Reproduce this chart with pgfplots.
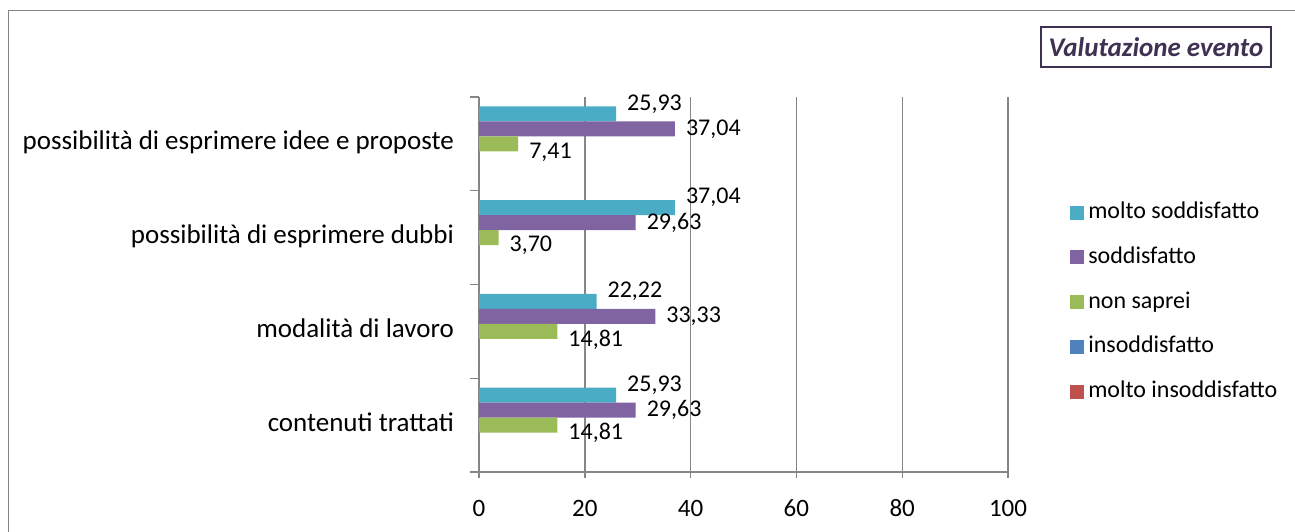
\documentclass[border=0pt]{standalone}
\usepackage{fontspec}
\setmainfont{Carlito}
\usepackage{pgfplots}
\pgfplotsset{compat=1.18}
\definecolor{molto}{HTML}{4BACC6}
\definecolor{sodd}{HTML}{8064A2}
\definecolor{nonsap}{HTML}{9BBB59}
\definecolor{insodd}{HTML}{4F81BD}
\definecolor{mins}{HTML}{C0504D}
\definecolor{axgray}{HTML}{868686}
\definecolor{titlecol}{HTML}{3F3151}
\pgfplotsset{/pgf/number format/assume math mode=true}
\newcommand{\lbl}{\pgfmathprintnumber[fixed,fixed zerofill,precision=2,use comma]{\pgfplotspointmeta}}

\begin{document}
\begin{tikzpicture}
% 1 px of the reference = 0.5pt
\useasboundingbox (0pt,0pt) rectangle (647.5pt,-265.5pt);
\draw[axgray, line width=0.7pt] (4.25pt,-270pt) -- (4.25pt,-5.25pt) -- (652pt,-5.25pt);
\node[draw=titlecol, line width=0.8pt, text=titlecol, minimum width=115pt, minimum height=20pt,
  font=\fontsize{13.5}{15}\selectfont\bfseries\itshape] at (578pt,-23.5pt) {Valutazione evento};

\begin{axis}[
  at={(239.5pt,-236pt)}, anchor=south west,
  scale only axis, width=264.5pt, height=187.5pt,
  xbar, bar width=0.16,
  xmin=0, xmax=100, ymin=-0.5, ymax=3.5,
  xtick={0,20,...,100},
  ytick={0,1,2,3},
  yticklabels={contenuti trattati, modalità di lavoro, possibilità di esprimere dubbi, possibilità di esprimere idee e proposte},
  minor ytick={-0.5,0.5,...,3.5},
  axis x line*=bottom, axis y line*=left,
  axis line style={-, draw=axgray, line width=0.7pt},
  xmajorgrids, grid style={draw=axgray, line width=0.7pt},
  tick align=outside,
  major tick length=3pt, minor tick length=4.5pt,
  major y tick style={draw=none},
  minor y tick style={draw=axgray, line width=0.7pt},
  x tick style={draw=axgray, line width=0.7pt},
  typeset ticklabels with strut,
  x tick label style={font=\fontsize{12.5}{14}\selectfont, yshift=-6pt},
  y tick label style={font=\fontsize{13.5}{15}\selectfont, xshift=-6pt},
  point meta=x,
  every node near coord/.append style={font=\fontsize{12}{14}\selectfont, xshift=2pt},
  legend style={at={(axis description cs:1.117,0.735)}, anchor=north west, draw=none, fill=none,
    inner sep=0pt, row sep=6.35pt, font=\fontsize{12}{14}\selectfont,
    nodes={inner sep=2pt, text height=9pt, text depth=3pt}},
  legend cell align=left,
  legend image code/.code={\fill[#1] (0pt,-3.5pt) rectangle (7pt,3.5pt);},
]
\addplot[fill=molto, draw=none, bar shift=0.32, nodes near coords=\lbl,
  every node near coord/.append style={yshift=5pt}]
  coordinates {(25.93,0) (22.22,1) (37.04,2) (25.93,3)};
\addplot[fill=sodd, draw=none, bar shift=0.16, nodes near coords=\lbl]
  coordinates {(29.63,0) (33.33,1) (29.63,2) (37.04,3)};
\addplot[fill=nonsap, draw=none, bar shift=0, nodes near coords=\lbl,
  every node near coord/.append style={yshift=-4pt}]
  coordinates {(14.81,0) (14.81,1) (3.70,2) (7.41,3)};
\addplot[fill=insodd, draw=none, bar shift=-0.16]
  coordinates {(0,0) (0,1) (0,2) (0,3)};
\addplot[fill=mins, draw=none, bar shift=-0.32]
  coordinates {(0,0) (0,1) (0,2) (0,3)};
\legend{molto soddisfatto, soddisfatto, non saprei, insoddisfatto, molto insoddisfatto}
\end{axis}
\end{tikzpicture}
\end{document}
